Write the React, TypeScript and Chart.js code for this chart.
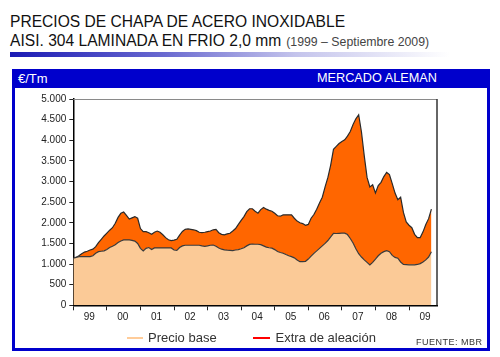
import React, { useEffect, useRef } from "react";
import { Chart, registerables } from "chart.js";

Chart.register(...registerables);

// Monthly points, Jan 1999 (0) … Sep 2009 (128)
const months = Array.from({ length: 129 }, (_, i) => i);
const yearLabels = ["99", "00", "01", "02", "03", "04", "05", "06", "07", "08", "09"];

// €/Tm – base price
const precioBase = [
  1140, 1160, 1180, 1180, 1180, 1180, 1180, 1200, 1260, 1300, 1310, 1320,
  1350, 1400, 1430, 1470, 1520, 1560, 1585, 1585, 1585, 1575, 1555, 1500,
  1380, 1320, 1380, 1400, 1350, 1390, 1390, 1390, 1390, 1390, 1390, 1390,
  1340, 1330, 1400, 1440, 1456, 1456, 1456, 1456, 1456, 1456, 1440, 1430,
  1440, 1456, 1460, 1430, 1390, 1360, 1342, 1335, 1330, 1325, 1340, 1350,
  1370, 1395, 1440, 1475, 1485, 1480, 1480, 1470, 1440, 1410, 1395, 1385,
  1350, 1305, 1280, 1262, 1230, 1200, 1180, 1150, 1100, 1058, 1060, 1066,
  1120, 1190, 1260, 1320, 1380, 1440, 1500, 1570, 1660, 1745, 1740, 1745,
  1750, 1747, 1715, 1620, 1510, 1370, 1250, 1170, 1100, 1040, 980, 1040,
  1120, 1200, 1260, 1300, 1325, 1300, 1210, 1160, 1140, 1050, 990, 985,
  980, 980, 980, 990, 1010, 1050, 1100, 1170, 1300,
];

// €/Tm – alloy surcharge (stacked on top of base)
const extraAleacion = [
  0, 0, 20, 70, 110, 130, 160, 160, 160, 220, 290, 360,
  400, 420, 450, 520, 610, 670, 675, 595, 505, 545, 595, 610,
  480, 466, 406, 360, 370, 380, 410, 380, 320, 250, 200, 178,
  240, 270, 300, 350, 384, 394, 384, 374, 354, 314, 322, 340,
  346, 344, 370, 410, 370, 360, 364, 395, 417, 475, 520, 610,
  690, 755, 830, 865, 855, 800, 753, 850, 929, 920, 905, 895,
  880, 865, 880, 928, 962, 992, 1010, 960, 940, 942, 920, 874,
  840, 920, 940, 1010, 1100, 1180, 1370, 1530, 1740, 2035, 2110, 2175,
  2220, 2263, 2385, 2590, 2870, 3150, 3369, 3030, 2520, 2060, 1890, 1880,
  1600, 1700, 1720, 1820, 1895, 1870, 1740, 1560, 1420, 1570, 1260, 1035,
  960, 900, 740, 650, 630, 730, 860, 930, 1030,
];

const FONT = "'Liberation Sans', Arial, sans-serif";
const BLUE = "#0000CC";

function fmt(v: number): string {
  if (v >= 1000) return Math.floor(v / 1000) + "." + String(v % 1000).padStart(3, "0");
  return String(v);
}

const framePlugin = {
  id: "frame",
  afterDraw(chart: any) {
    const { ctx, chartArea } = chart;
    ctx.save();
    ctx.strokeStyle = "#8a8a8a";
    ctx.lineWidth = 1;
    ctx.beginPath();
    ctx.moveTo(chartArea.left, chartArea.top + 0.5);
    ctx.lineTo(chartArea.right, chartArea.top + 0.5);
    ctx.stroke();
    ctx.strokeStyle = "#333";
    ctx.lineWidth = 1.5;
    ctx.beginPath();
    ctx.moveTo(chartArea.right, chartArea.top);
    ctx.lineTo(chartArea.right, chartArea.bottom);
    ctx.stroke();
    ctx.restore();
  },
};

function ChartCanvas() {
  const ref = useRef<HTMLCanvasElement | null>(null);
  useEffect(() => {
    if (!ref.current) return;
    const chart = new Chart(ref.current, {
      type: "line",
      data: {
        datasets: [
          {
            label: "Precio base",
            data: months.map((m, i) => ({ x: m, y: precioBase[i] })),
            fill: "origin",
            backgroundColor: "#FBCA97",
            borderColor: "#3a3a3a",
            borderWidth: 1.2,
            pointRadius: 0,
            tension: 0,
          },
          {
            label: "Extra de aleación",
            data: months.map((m, i) => ({ x: m, y: extraAleacion[i] })),
            fill: "-1",
            backgroundColor: "#FF6600",
            borderColor: "#2a2a2a",
            borderWidth: 1.2,
            pointRadius: 0,
            tension: 0,
          },
        ],
      },
      options: {
        responsive: false,
        animation: false,
        devicePixelRatio: 1,
        layout: { padding: { top: 11, right: 50, bottom: 23.7, left: 0 } },
        plugins: { legend: { display: false }, tooltip: { enabled: false } },
        scales: {
          x: {
            type: "linear",
            min: 0,
            max: 130,
            afterBuildTicks: (scale: any) => {
              scale.ticks = yearLabels.map((_, i) => ({ value: i * 12 }));
            },
            afterFit: (scale: any) => {
              scale.height = 20;
            },
            ticks: {
              callback: (v: any) => yearLabels[Math.round(Number(v) / 12)] ?? "",
              labelOffset: 16,
              padding: 1,
              autoSkip: false,
              maxRotation: 0,
              color: "#222",
              font: { family: FONT, size: 10 },
            },
            grid: { drawOnChartArea: false, drawTicks: true, tickLength: 5, color: "#222", lineWidth: 1 },
            border: { display: true, color: "#000", width: 1.5 },
          },
          y: {
            stacked: true,
            min: 0,
            max: 5000,
            afterFit: (scale: any) => {
              scale.width = 59.3;
            },
            ticks: {
              stepSize: 500,
              callback: (v: any) => fmt(Number(v)),
              padding: 3,
              color: "#222",
              font: { family: FONT, size: 10 },
            },
            grid: { drawOnChartArea: false, drawTicks: true, tickLength: 4, color: "#222", lineWidth: 1 },
            border: { display: true, color: "#000", width: 1.5 },
          },
        },
      },
      plugins: [framePlugin],
    } as any);
    return () => chart.destroy();
  }, []);
  return (
    <canvas
      ref={ref}
      width={473}
      height={261}
      style={{ position: "absolute", left: 14, top: 88, width: 473, height: 261 }}
    />
  );
}

export default function App() {
  return (
    <div
      style={{
        position: "fixed",
        left: 0,
        top: 0,
        width: 500,
        height: 357,
        background: "#fff",
        fontFamily: FONT,
        overflow: "hidden",
      }}
    >
      <div style={{ position: "absolute", left: 10, top: 14.4, fontSize: 15.6, lineHeight: "16px", color: "#111", whiteSpace: "nowrap" }}>
        PRECIOS DE CHAPA DE ACERO INOXIDABLE
      </div>
      <div style={{ position: "absolute", left: 10, top: 33.4, fontSize: 15.6, lineHeight: "16px", color: "#111", whiteSpace: "nowrap" }}>
        AISI. 304 LAMINADA EN FRIO 2,0 mm
        <span style={{ fontSize: 12.3, color: "#444", marginLeft: 5 }}>(1999 – Septiembre 2009)</span>
      </div>
      <div
        style={{
          position: "absolute",
          left: 10,
          top: 52,
          width: 440,
          height: 5,
          background: "linear-gradient(to right, #1a1ab4 0%, #6a6ad0 35%, #c4c4ec 65%, #ffffff 100%)",
        }}
      />
      <div
        style={{
          position: "absolute",
          left: 12,
          top: 69,
          width: 478,
          height: 282,
          boxSizing: "border-box",
          border: `3px solid ${BLUE}`,
          borderTopWidth: 19,
        }}
      />
      <div style={{ position: "absolute", left: 18, top: 72.3, fontSize: 13, lineHeight: "13px", color: "#fff" }}>€/Tm</div>
      <div style={{ position: "absolute", left: 317, top: 72.3, fontSize: 12.7, lineHeight: "13px", color: "#fff", whiteSpace: "nowrap" }}>
        MERCADO ALEMAN
      </div>
      <ChartCanvas />
      <div style={{ position: "absolute", left: 127, top: 336.7, width: 16, height: 2, background: "#FFCC99" }} />
      <div style={{ position: "absolute", left: 148, top: 330, fontSize: 13, lineHeight: "15px", color: "#333", whiteSpace: "nowrap" }}>
        Precio base
      </div>
      <div style={{ position: "absolute", left: 253, top: 336.7, width: 17, height: 2, background: "#FF0000" }} />
      <div style={{ position: "absolute", left: 275.5, top: 330, fontSize: 13, lineHeight: "15px", color: "#333", whiteSpace: "nowrap" }}>
        Extra de aleación
      </div>
      <div style={{ position: "absolute", left: 416, top: 337.7, fontSize: 9, lineHeight: "9px", letterSpacing: 0.5, color: "#333", whiteSpace: "nowrap" }}>
        FUENTE: MBR
      </div>
    </div>
  );
}
